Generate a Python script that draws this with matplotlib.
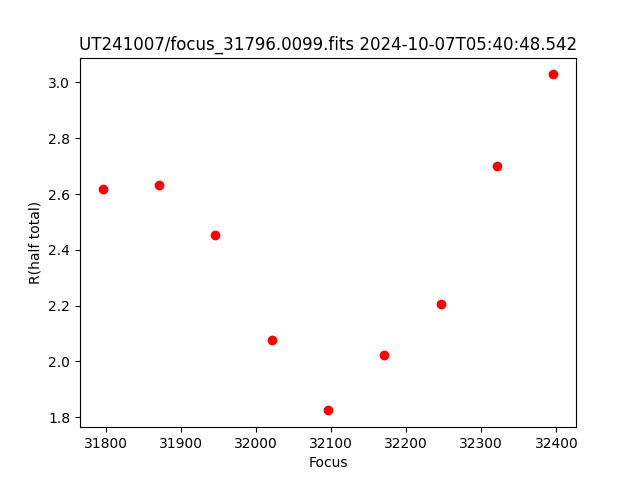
import matplotlib
matplotlib.use("Agg")
import matplotlib.pyplot as plt

# focus positions and measured half-total radius
focus = [31796, 31871, 31946, 32021, 32096, 32171, 32246, 32321, 32396]
r_half = [2.617, 2.631, 2.452, 2.075, 1.824, 2.022, 2.204, 2.699, 3.029]

fig = plt.figure(figsize=(6.4, 4.8), dpi=100)
plt.plot(focus, r_half, 'ro')
plt.xlabel("Focus")
plt.ylabel("R(half total)")
plt.title("UT241007/focus_31796.0099.fits 2024-10-07T05:40:48.542")
plt.savefig("out.png")
